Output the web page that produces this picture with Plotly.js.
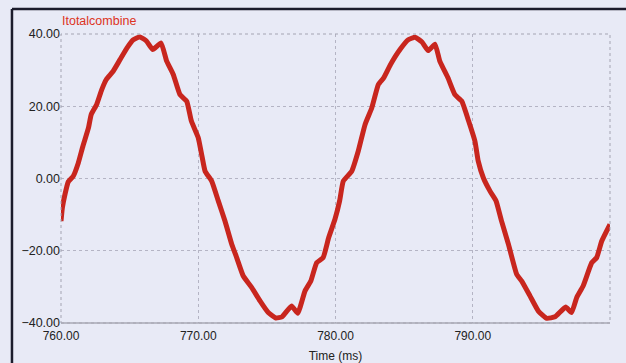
<!DOCTYPE html>
<html>
<head>
<meta charset="utf-8">
<script src="https://cdn.plot.ly/plotly-3.0.1.min.js"></script>
<style>
html,body{margin:0;padding:0;background:#e8eaf6;}
#chart{width:626px;height:363px;}
</style>
</head>
<body>
<div id="chart"></div>
<script>
// Time (ms)
const timeMs = [760.00,760.10,760.29,760.53,760.90,761.26,761.60,762.00,762.20,762.60,762.97,763.30,763.80,764.30,764.80,765.27,765.76,766.24,766.68,767.29,767.70,768.18,768.67,769.16,769.50,770.00,770.25,770.50,770.98,771.46,771.95,772.44,772.80,773.28,773.90,774.50,775.10,775.65,776.10,776.80,777.25,777.78,778.20,778.63,779.10,779.50,779.96,780.30,780.57,781.18,781.66,782.15,782.64,783.12,783.50,784.00,784.70,785.30,785.80,786.30,786.76,787.25,787.60,788.20,788.70,789.20,789.70,790.16,790.40,790.77,791.26,791.70,792.10,792.60,793.20,793.57,794.17,794.78,795.40,796.00,796.77,797.20,797.57,798.05,798.67,799.03,799.40,800.00];
// Itotalcombine
const itotal = [-11.8,-8.1,-4.4,-0.9,0.7,4.3,9.0,14.0,17.7,20.5,24.6,27.4,29.7,32.9,36.1,38.4,39.2,38.0,35.7,37.5,32.5,28.8,23.2,21.4,15.9,11.3,6.6,2.0,-0.7,-6.2,-11.8,-18.2,-21.9,-27.0,-30.2,-33.9,-37.1,-38.6,-38.3,-35.3,-37.3,-31.1,-28.4,-23.3,-21.9,-16.4,-11.3,-6.2,-0.7,2.0,7.6,14.9,19.5,26.0,27.8,31.5,35.7,38.4,39.1,37.8,35.4,37.2,32.5,27.8,23.2,21.4,15.9,10.3,4.8,0.2,-3.5,-6.2,-11.8,-18.2,-26.5,-28.4,-32.5,-36.7,-38.7,-38.3,-35.6,-37.1,-33.0,-29.7,-23.3,-21.9,-17.3,-12.7];
const seriesName = 'Itotalcombine';
const xTitle = 'Time (ms)';
const xTicks = [760, 770, 780, 790, 800];
const yTicks = [-40, -20, 0, 20, 40];

const trace = {
  x: timeMs, y: itotal, type: 'scatter', mode: 'lines', name: seriesName,
  line: {color: '#c8261e', width: 5, shape: 'spline', smoothing: 0.4}
};

const layout = {
  width: 626, height: 363,
  margin: {l: 61, r: 16, t: 34, b: 40},
  paper_bgcolor: '#e8eaf6', plot_bgcolor: '#e8eaf6',
  showlegend: false,
  font: {family: 'Liberation Sans, Arial, sans-serif', size: 12, color: '#222222'},
  xaxis: {
    range: [760, 800], tickvals: xTicks, tickformat: '.2f',
    showgrid: true, gridcolor: '#b4b4c4', griddash: 'dot', gridwidth: 1,
    zeroline: false, showline: false, ticks: '', ticklabelstandoff: 4,
    tickfont: {size: 12, color: '#222222'},
    title: {text: xTitle, font: {size: 12, color: '#222222'}, standoff: 9}
  },
  yaxis: {
    range: [-40, 40], tickvals: yTicks, tickformat: '.2f',
    showgrid: true, gridcolor: '#b4b4c4', griddash: 'dot', gridwidth: 1,
    zeroline: false, showline: false, ticks: '',
    tickfont: {size: 12.5, color: '#222222'}
  },
  shapes: [
    {type: 'rect', xref: 'paper', yref: 'paper', x0: 0, x1: 1, y0: 0, y1: 1,
     line: {color: '#a4a4b2', width: 1, dash: 'dot'}},
    {type: 'line', xref: 'paper', yref: 'paper', x0: 0, x1: 1, y0: 0, y1: 0,
     line: {color: '#a8a8b4', width: 1.5}},
    {type: 'line', xref: 'paper', yref: 'paper', x0: -0.0893, x1: 1.05, y0: 1.0865, y1: 1.0865,
     line: {color: '#1c1c2c', width: 2.5}},
    {type: 'line', xref: 'paper', yref: 'paper', x0: -0.0893, x1: -0.0893, y0: 1.0865, y1: -0.2,
     line: {color: '#1c1c2c', width: 2.5}}
  ],
  annotations: [
    {text: seriesName, xref: 'paper', yref: 'paper', x: -0.002, y: 1.045,
     xanchor: 'left', yanchor: 'middle', showarrow: false,
     font: {size: 12.5, color: '#dd3322'}}
  ]
};

Plotly.newPlot('chart', [trace], layout, {displayModeBar: false, staticPlot: true});
</script>
</body>
</html>
